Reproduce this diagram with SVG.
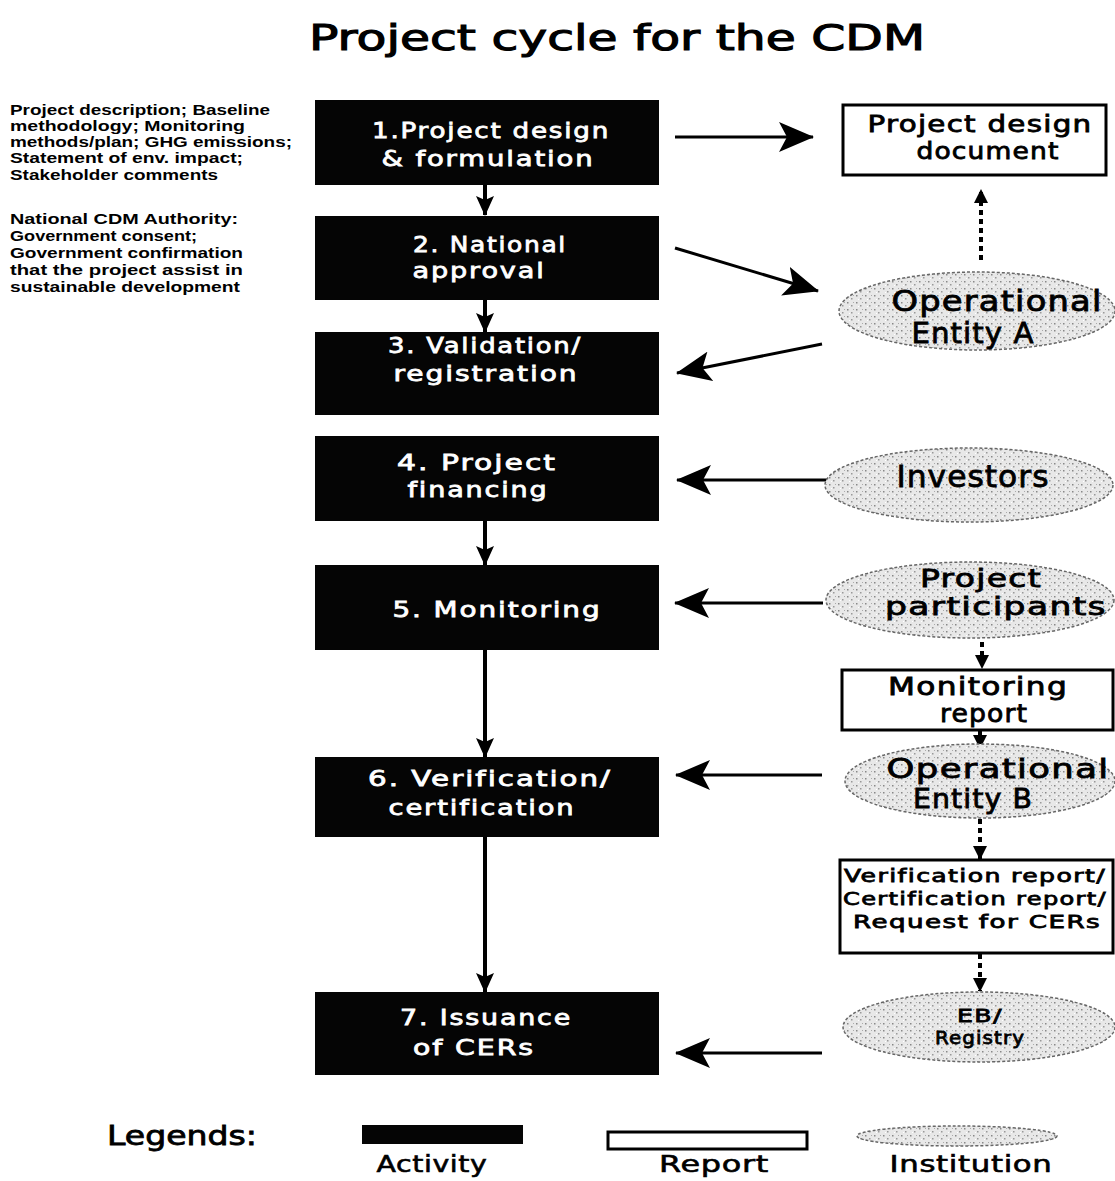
<svg xmlns="http://www.w3.org/2000/svg" width="1115" height="1181" viewBox="0 0 1115 1181">
<defs>
<style>
.act{fill:#050505}
.at{font-family:"DejaVu Sans",sans-serif;font-size:22px;fill:#fff;stroke:#fff;stroke-width:0.8;text-anchor:middle;letter-spacing:1.5px}
.rep{fill:#fff;stroke:#000;stroke-width:3}
.rt{font-family:"DejaVu Sans",sans-serif;fill:#000;stroke:#000;stroke-width:0.8;text-anchor:middle;letter-spacing:1px}
.inst{fill:url(#stip);stroke:#666;stroke-width:1.5;stroke-dasharray:3 2}
.note{font-family:"Liberation Sans",sans-serif;font-size:15px;font-weight:bold;fill:#000}
.ln{stroke:#000;stroke-width:3;fill:none}
.vl{stroke:#000;stroke-width:4;fill:none}
.dl{stroke:#000;stroke-width:4;fill:none;stroke-dasharray:5 4}
.leg{font-family:"DejaVu Sans",sans-serif;font-size:23px;fill:#000;stroke:#000;stroke-width:0.6;text-anchor:middle;letter-spacing:0.5px}
</style>
<pattern id="stip" width="9" height="7" patternUnits="userSpaceOnUse">
<rect width="9" height="7" fill="#e8e8e8"/>
<rect x="1" y="1" width="1.5" height="1.5" fill="#888"/>
<rect x="5" y="4" width="1.5" height="1.5" fill="#999"/>
<rect x="7" y="1" width="1" height="1" fill="#aaa"/>
<rect x="3" y="5" width="1" height="1" fill="#fff"/>
</pattern>
<marker id="ah" viewBox="0 0 35 30" markerWidth="35" markerHeight="30" refX="34" refY="15" orient="auto" markerUnits="userSpaceOnUse">
<path d="M0,0 L35,15 L0,30 L8,15 Z" fill="#000"/>
</marker>
<marker id="vh" viewBox="0 0 20 18" markerWidth="20" markerHeight="18" refX="19" refY="9" orient="auto" markerUnits="userSpaceOnUse">
<path d="M0,0 L20,9 L0,18 L4,9 Z" fill="#000"/>
</marker>
<marker id="dh" viewBox="0 0 14 14" markerWidth="14" markerHeight="14" refX="13" refY="7" orient="auto" markerUnits="userSpaceOnUse">
<path d="M0,0 L14,7 L0,14 Z" fill="#000"/>
</marker>
</defs>
<rect width="1115" height="1181" fill="#fff"/>
<text x="617" y="50" font-family="DejaVu Sans,sans-serif" font-size="36" stroke="#000" stroke-width="1.1" text-anchor="middle" textLength="616" lengthAdjust="spacingAndGlyphs">Project cycle for the CDM</text>

<g id="notes">
<text class="note" x="10" y="115" textLength="260" lengthAdjust="spacingAndGlyphs">Project description; Baseline</text>
<text class="note" x="10" y="131" textLength="235" lengthAdjust="spacingAndGlyphs">methodology; Monitoring</text>
<text class="note" x="10" y="147" textLength="282" lengthAdjust="spacingAndGlyphs">methods/plan; GHG emissions;</text>
<text class="note" x="10" y="163" textLength="233" lengthAdjust="spacingAndGlyphs">Statement of env. impact;</text>
<text class="note" x="10" y="180" textLength="208" lengthAdjust="spacingAndGlyphs">Stakeholder comments</text>
<text class="note" x="10" y="224" textLength="228" lengthAdjust="spacingAndGlyphs">National CDM Authority:</text>
<text class="note" x="10" y="241" textLength="187" lengthAdjust="spacingAndGlyphs">Government consent;</text>
<text class="note" x="10" y="258" textLength="233" lengthAdjust="spacingAndGlyphs">Government confirmation</text>
<text class="note" x="10" y="275" textLength="233" lengthAdjust="spacingAndGlyphs">that the project assist in</text>
<text class="note" x="10" y="292" textLength="230" lengthAdjust="spacingAndGlyphs">sustainable development</text>
</g>

<g id="connectors">
<line class="vl" x1="485" y1="185" x2="485" y2="215" marker-end="url(#vh)"/>
<line class="vl" x1="485" y1="300" x2="485" y2="332" marker-end="url(#vh)"/>
<line class="vl" x1="485" y1="521" x2="485" y2="565" marker-end="url(#vh)"/>
<line class="vl" x1="485" y1="650" x2="485" y2="757" marker-end="url(#vh)"/>
<line class="vl" x1="485" y1="837" x2="485" y2="992" marker-end="url(#vh)"/>
<line class="ln" x1="675" y1="137" x2="813" y2="137" marker-end="url(#ah)"/>
<line class="ln" x1="675" y1="248" x2="818" y2="291" marker-end="url(#ah)"/>
<line class="ln" x1="822" y1="344" x2="677" y2="373" marker-end="url(#ah)"/>
<line class="ln" x1="827" y1="480" x2="677" y2="480" marker-end="url(#ah)"/>
<line class="ln" x1="823" y1="603" x2="675" y2="603" marker-end="url(#ah)"/>
<line class="ln" x1="822" y1="775" x2="676" y2="775" marker-end="url(#ah)"/>
<line class="ln" x1="822" y1="1053" x2="676" y2="1053" marker-end="url(#ah)"/>
<line class="dl" x1="981" y1="260" x2="981" y2="190" marker-end="url(#dh)"/>
<line class="dl" x1="982" y1="642" x2="982" y2="668" marker-end="url(#dh)"/>
<line class="dl" x1="980" y1="731" x2="980" y2="748" marker-end="url(#dh)"/>
<line class="dl" x1="980" y1="819" x2="980" y2="859" marker-end="url(#dh)"/>
<line class="dl" x1="980" y1="954" x2="980" y2="991" marker-end="url(#dh)"/>
</g>

<g id="a1"><rect class="act" x="315" y="100" width="344" height="85"/>
<text class="at" x="491" y="138" textLength="238" lengthAdjust="spacingAndGlyphs">1.Project design</text><text class="at" x="488" y="166" textLength="213" lengthAdjust="spacingAndGlyphs">&amp; formulation</text></g>
<g id="a2"><rect class="act" x="315" y="216" width="344" height="84"/>
<text class="at" x="490" y="252" textLength="154" lengthAdjust="spacingAndGlyphs">2. National</text><text class="at" x="479" y="278" textLength="133" lengthAdjust="spacingAndGlyphs">approval</text></g>
<g id="a3"><rect class="act" x="315" y="332" width="344" height="83"/>
<text class="at" x="485" y="353" textLength="194" lengthAdjust="spacingAndGlyphs">3. Validation/</text><text class="at" x="486" y="381" textLength="185" lengthAdjust="spacingAndGlyphs">registration</text></g>
<g id="a4"><rect class="act" x="315" y="436" width="344" height="85"/>
<text class="at" x="477" y="470" textLength="160" lengthAdjust="spacingAndGlyphs">4.  Project</text><text class="at" x="478" y="497" textLength="141" lengthAdjust="spacingAndGlyphs">financing</text></g>
<g id="a5"><rect class="act" x="315" y="565" width="344" height="85"/>
<text class="at" x="497" y="617" textLength="209" lengthAdjust="spacingAndGlyphs">5. Monitoring</text></g>
<g id="a6"><rect class="act" x="315" y="757" width="344" height="80"/>
<text class="at" x="490" y="786" textLength="244" lengthAdjust="spacingAndGlyphs">6. Verification/</text><text class="at" x="482" y="815" textLength="187" lengthAdjust="spacingAndGlyphs">certification</text></g>
<g id="a7"><rect class="act" x="315" y="992" width="344" height="83"/>
<text class="at" x="486" y="1025" textLength="172" lengthAdjust="spacingAndGlyphs">7. Issuance</text><text class="at" x="474" y="1055" textLength="122" lengthAdjust="spacingAndGlyphs">of CERs</text></g>

<g id="r1"><rect class="rep" x="843" y="105" width="263" height="70"/>
<text class="rt" font-size="23" x="980" y="132" textLength="225" lengthAdjust="spacingAndGlyphs">Project design</text><text class="rt" font-size="23" x="988" y="159" textLength="143" lengthAdjust="spacingAndGlyphs">document</text></g>
<g id="i1"><ellipse class="inst" cx="977" cy="311" rx="138" ry="39"/>
<text class="rt" font-size="28" x="997" y="311" textLength="211" lengthAdjust="spacingAndGlyphs">Operational</text><text class="rt" font-size="28" x="973" y="343" textLength="123" lengthAdjust="spacingAndGlyphs">Entity A</text></g>
<g id="i2"><ellipse class="inst" cx="969" cy="485" rx="144" ry="37"/>
<text class="rt" font-size="31" x="973" y="487" textLength="153" lengthAdjust="spacingAndGlyphs">Investors</text></g>
<g id="i3"><ellipse class="inst" cx="970" cy="600" rx="144" ry="38"/>
<text class="rt" font-size="25" x="981" y="587" textLength="122" lengthAdjust="spacingAndGlyphs">Project</text><text class="rt" font-size="25" x="996" y="615" textLength="222" lengthAdjust="spacingAndGlyphs">participants</text></g>
<g id="r2"><rect class="rep" x="842" y="670" width="271" height="60"/>
<text class="rt" font-size="24" x="978" y="695" textLength="180" lengthAdjust="spacingAndGlyphs">Monitoring</text><text class="rt" font-size="24" x="984" y="722" textLength="88" lengthAdjust="spacingAndGlyphs">report</text></g>
<g id="i4"><ellipse class="inst" cx="980" cy="781" rx="135" ry="37"/>
<text class="rt" font-size="26" x="998" y="778" textLength="223" lengthAdjust="spacingAndGlyphs">Operational</text><text class="rt" font-size="26" x="973" y="808" textLength="120" lengthAdjust="spacingAndGlyphs">Entity B</text></g>
<g id="r3"><rect class="rep" x="840" y="860" width="273" height="93"/>
<text class="rt" font-size="18" stroke-width="0.6" x="975" y="882" textLength="262" lengthAdjust="spacingAndGlyphs">Verification report/</text><text class="rt" font-size="18" stroke-width="0.6" x="975" y="905" textLength="264" lengthAdjust="spacingAndGlyphs">Certification report/</text><text class="rt" font-size="18" stroke-width="0.6" x="977" y="928" textLength="248" lengthAdjust="spacingAndGlyphs">Request for CERs</text></g>
<g id="i5"><ellipse class="inst" cx="979" cy="1027" rx="136" ry="35"/>
<text class="rt" font-size="18" stroke-width="0.7" x="980" y="1022" textLength="46" lengthAdjust="spacingAndGlyphs">EB/</text><text class="rt" font-size="18" stroke-width="0.7" x="980" y="1044" textLength="90" lengthAdjust="spacingAndGlyphs">Registry</text></g>

<g id="legend">
<text x="107" y="1145" font-family="DejaVu Sans,sans-serif" font-size="27" stroke="#000" stroke-width="0.8" textLength="150" lengthAdjust="spacingAndGlyphs">Legends:</text>
<rect class="act" x="362" y="1125" width="161" height="19"/>
<rect class="rep" x="608" y="1132" width="199" height="17"/>
<ellipse class="inst" cx="957" cy="1136" rx="100" ry="10"/>
<text class="leg" x="432" y="1172" textLength="111" lengthAdjust="spacingAndGlyphs">Activity</text>
<text class="leg" x="714" y="1172" textLength="110" lengthAdjust="spacingAndGlyphs">Report</text>
<text class="leg" x="971" y="1172" textLength="163" lengthAdjust="spacingAndGlyphs">Institution</text>
</g>
</svg>
